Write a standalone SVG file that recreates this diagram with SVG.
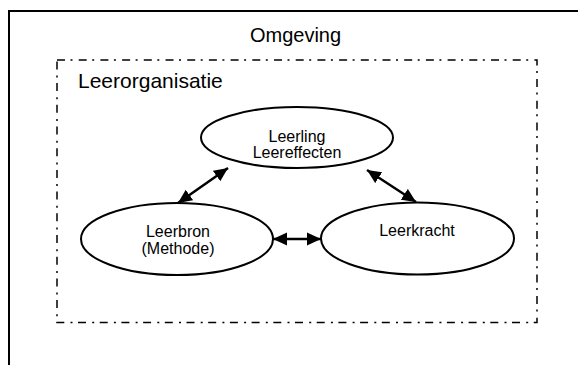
<svg xmlns="http://www.w3.org/2000/svg" width="578" height="365" viewBox="0 0 578 365">
<style>
  text { font-family: "Liberation Sans", Arial, sans-serif; fill: #000; }
  .region { font-size: 20px; }
  .lbl { font-size: 16px; text-anchor: middle; }
  .node ellipse { fill: #fff; stroke: #000; stroke-width: 2; }
  .conn line { stroke: #000; stroke-width: 2.5; marker-start: url(#arr); marker-end: url(#arr); }
</style>
<defs>
  <marker id="arr" markerUnits="userSpaceOnUse" markerWidth="15" markerHeight="14" refX="14" refY="7" orient="auto-start-reverse">
    <path d="M0,0.5 L14,7 L0,13.5 z" fill="#000"/>
  </marker>
</defs>
<rect width="578" height="365" fill="#fff"/>
<g id="omgeving">
  <rect x="9" y="11" width="600" height="400" fill="none" stroke="#000" stroke-width="2"/>
  <text class="region" x="295.5" y="42" text-anchor="middle">Omgeving</text>
</g>
<g id="leerorganisatie">
  <rect x="57" y="60" width="480" height="262.5" fill="none" stroke="#000" stroke-width="1.5" stroke-dasharray="8,5.5,2,6.2"/>
  <text class="region" x="78" y="88" style="font-size:21px">Leerorganisatie</text>
</g>
<g id="leerling" class="node">
  <ellipse cx="297" cy="137.5" rx="96" ry="30.5"/>
  <text class="lbl" x="297" y="141.5">Leerling</text>
  <text class="lbl" x="297" y="158">Leereffecten</text>
</g>
<g id="leerbron" class="node">
  <ellipse cx="177" cy="239" rx="96" ry="36"/>
  <text class="lbl" x="178" y="236.5">Leerbron</text>
  <text class="lbl" x="178" y="254">(Methode)</text>
</g>
<g id="leerkracht" class="node">
  <ellipse cx="417.5" cy="238.5" rx="96.5" ry="36"/>
  <text class="lbl" x="417" y="236">Leerkracht</text>
</g>
<g id="connectors" class="conn">
  <line x1="178" y1="203" x2="228" y2="168"/>
  <line x1="367" y1="170" x2="416" y2="202"/>
  <line x1="273" y1="239" x2="321" y2="239"/>
</g>
</svg>
